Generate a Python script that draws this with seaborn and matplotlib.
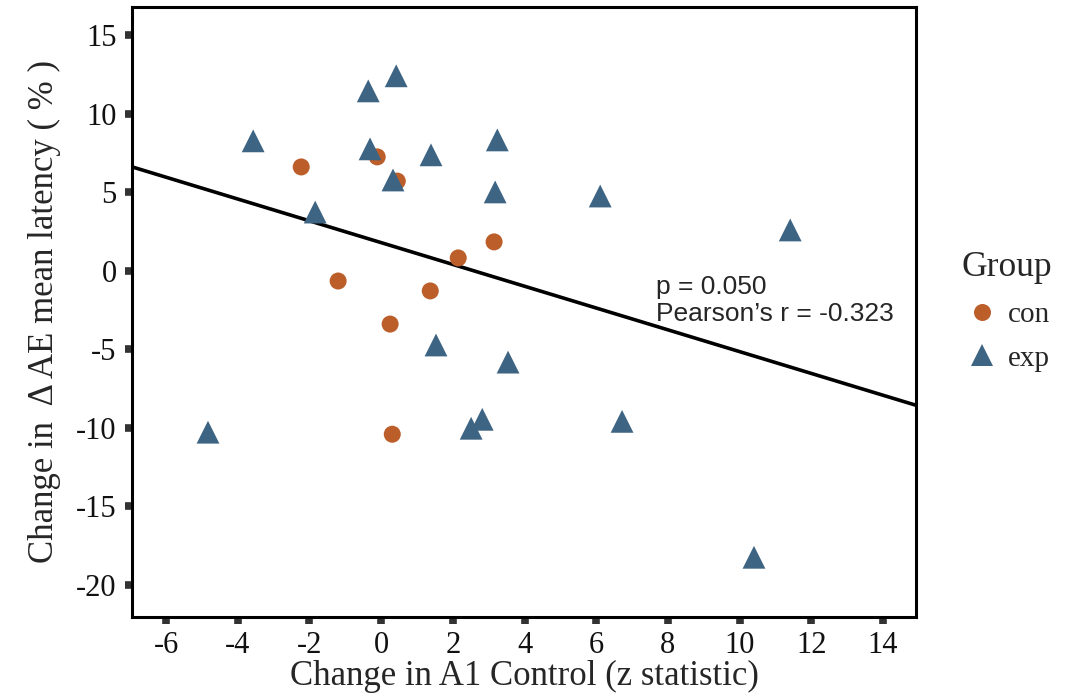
import numpy as np
import pandas as pd
import matplotlib
matplotlib.use("Agg")
import matplotlib.pyplot as plt
import seaborn as sns

con_x = [-2.23, -0.11, 0.45, -1.20, 1.37, 0.25, 2.15, 3.15, 0.31]
con_y = [6.60, 7.24, 5.70, -0.66, -1.29, -3.40, 0.81, 1.83, -10.41]
exp_x = [-3.57, -0.36, 0.42, -0.31, 1.39, 3.24, 0.33, 3.18, -1.84, 6.11, 11.41,
         1.53, 3.54, -4.83, 2.51, 2.82, 6.72, 10.40]
exp_y = [8.26, 11.44, 12.40, 7.75, 7.37, 8.32, 5.77, 5.01, 3.73, 4.75, 2.59,
         -4.73, -5.82, -10.28, -10.03, -9.46, -9.59, -18.24]
groups = ["con", "exp"]
x_ticks = [-6, -4, -2, 0, 2, 4, 6, 8, 10, 12, 14]
y_ticks = [15, 10, 5, 0, -5, -10, -15, -20]
annot_text = "p = 0.050\nPearson\u2019s r = -0.323"

df = pd.DataFrame({
    "x": con_x + exp_x,
    "y": con_y + exp_y,
    "Group": ["con"] * len(con_x) + ["exp"] * len(exp_x),
})

sns.set_theme(style="white")
plt.rcParams["font.family"] = ["Liberation Serif", "DejaVu Serif"]
plt.rcParams["axes.unicode_minus"] = False

fig = plt.figure(figsize=(10.68, 6.97), dpi=100)
ax = fig.add_axes([0.1236, 0.1148, 0.7341, 0.8752])
ax.set_xlim(-6.95, 14.92)
ax.set_ylim(-22.04, 16.78)

sns.regplot(data=df, x="x", y="y", scatter=False, ci=None, truncate=False,
            color="black", line_kws={"linewidth": 2.6}, ax=ax)

sns.scatterplot(data=df, x="x", y="y", hue="Group", style="Group", size="Group",
                hue_order=groups, style_order=groups, size_order=groups,
                palette={"con": "#BC5E2A", "exp": "#3E6483"},
                markers={"con": "o", "exp": "^"},
                sizes={"con": 150, "exp": 270},
                linewidth=0, ax=ax, legend="full", zorder=3)

ax.set_xlim(-6.95, 14.92)
ax.set_ylim(-22.04, 16.78)
ax.set_xticks(x_ticks)
ax.set_yticks(y_ticks)
ax.tick_params(axis="both", which="major", bottom=True, left=True,
               direction="out", length=5, width=5.5,
               color="#333333", labelsize=22, labelcolor="#111111")
ax.tick_params(axis="x", pad=5)
ax.tick_params(axis="y", pad=6)
for s in ax.spines.values():
    s.set_linewidth(2.2)
    s.set_color("black")

ax.set_xlabel("Change in A1 Control (z statistic)", fontsize=25, labelpad=0)
ax.set_ylabel("Change in  \u0394 AE mean latency ( % )", fontsize=25, labelpad=11)

ax.text(7.67, -1.9, annot_text, family=["Liberation Sans", "DejaVu Sans"],
        fontsize=19, va="center", ha="left", linespacing=1.15)

handles, labels = ax.get_legend_handles_labels()
h2, l2 = [], []
for h, l in zip(handles, labels):
    if l in groups:
        h2.append(h)
        l2.append(l)
leg = ax.legend(h2, l2, title="Group", loc="upper left",
                bbox_to_anchor=(1.043, 0.6185), borderaxespad=0,
                frameon=False, fontsize=21, title_fontsize=25.5,
                handlelength=1.4, handletextpad=0.2, labelspacing=0.59,
                markerscale=1.0)
leg._legend_box.align = "left"

fig.savefig("out.png", dpi=100)
